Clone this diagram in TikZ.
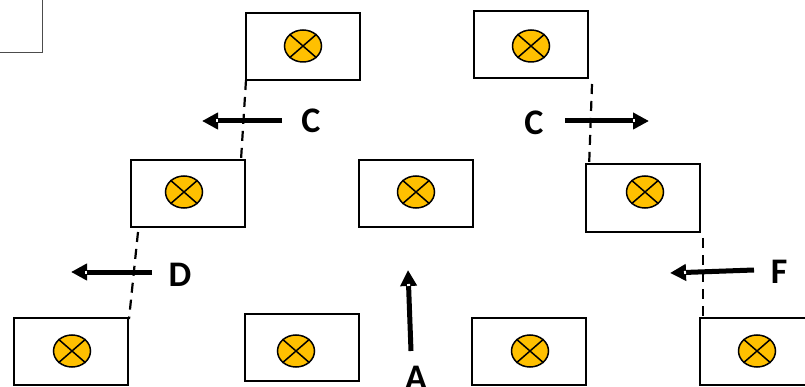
\documentclass[tikz,border=0pt]{standalone}
\usepackage{fontspec}
\setmainfont{Carlito}
\usetikzlibrary{arrows.meta,shapes.geometric,calc}
\definecolor{lampfill}{HTML}{FFC000}
\tikzset{
  x=1pt,y=-1pt,
  room/.style={draw=black,line width=1.6pt,fill=white,minimum width=114pt,minimum height=67pt,inner sep=0pt,outer sep=0pt,anchor=north west},
  lampmark/.style={draw=black,line width=1.5pt,fill=lampfill,ellipse,minimum width=37pt,minimum height=32pt,inner sep=0pt},
  wallline/.style={line width=2.2pt,dash pattern=on 10pt off 7pt},
  dir/.style={line width=5pt,-{Triangle[length=16pt,width=16pt]}},
  notchmark/.style={white,line width=3pt},
  lab/.style={font=\bfseries\fontsize{36}{36}\selectfont,inner sep=0pt,anchor=center},
}
\newcommand{\lampat}[3]{%
  \node[lampmark] (#1) at (#2,#3) {};
  \draw[line width=1.5pt] (#1.north west) -- (#1.south east) (#1.north east) -- (#1.south west);
}
\newcommand{\dirarrow}[2]{%
  \draw[dir] (#1) -- (#2);
  \draw[notchmark] ($(#2)!14pt!(#1)$) -- ($(#2)!16pt!(#1)$);
}
\begin{document}
\begin{tikzpicture}
\useasboundingbox (0,0) rectangle (805,387);
\clip (0,0) rectangle (805,387);
\fill[white] (0,0) rectangle (805,387);
\draw[line width=1pt,draw=black!70] (0,53) -- (42,53) -- (42,0);

\node[room] (b1) at (246,13) {};
\node[room] (b2) at (474,11) {};
\node[room] (b3) at (131,160) {};
\node[room] (b4) at (359,160) {};
\node[room,minimum height=68pt] (b5) at (586,164) {};
\node[room] (b6) at (14,318) {};
\node[room] (b7) at (245,314) {};
\node[room] (b8) at (472,318) {};
\node[room] (b9) at (700,318) {};

\lampat{l1}{303}{46}
\lampat{l2}{531}{46}
\lampat{l3}{184}{192}
\lampat{l4}{416}{192}
\lampat{l5}{645}{192}
\lampat{l6}{72}{351}
\lampat{l7}{296}{351}
\lampat{l8}{530}{351}
\lampat{l9}{757}{351}

\coordinate (w1a) at (246,80);
\coordinate (w1b) at (241,160);
\coordinate (w2a) at (592,84);
\coordinate (w2b) at (589,168);
\coordinate (w3a) at (138,232);
\coordinate (w3b) at (129,319);
\coordinate (w4a) at (703,238);
\coordinate (w4b) at (703,319);
\draw[wallline] (w1a) -- (w1b);
\draw[wallline] (w2a) -- (w2b);
\draw[wallline] (w3a) -- (w3b);
\draw[wallline] (w4a) -- (w4b);

\node[lab] (c1) at (311,121) {C};
\node[lab] (c2) at (534,123) {C};
\node[lab] (d) at (180,275) {D};
\node[lab] (f) at (779,272) {F};
\node[lab] (a) at (416,378) {A};

\coordinate (c1s) at (282,121);
\coordinate (c1e) at (202,121);
\coordinate (c2s) at (565,121);
\coordinate (c2e) at (649,121);
\coordinate (ds) at (152,272);
\coordinate (de) at (71,272);
\coordinate (fs) at (754,270);
\coordinate (fe) at (670,273);
\coordinate (as) at (411,351);
\coordinate (ae) at (408,270);
\dirarrow{c1s}{c1e}
\dirarrow{c2s}{c2e}
\dirarrow{ds}{de}
\dirarrow{fs}{fe}
\dirarrow{as}{ae}
\end{tikzpicture}
\end{document}
